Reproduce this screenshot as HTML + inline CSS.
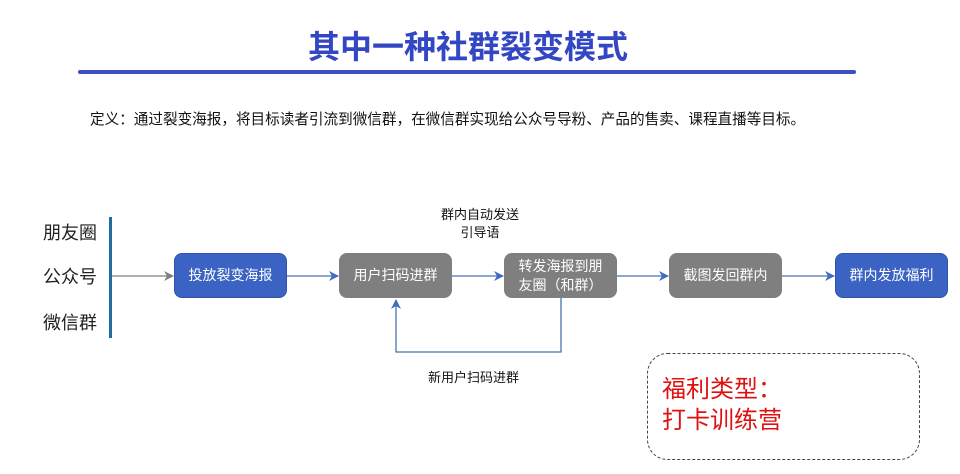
<!DOCTYPE html>
<html><head><meta charset="utf-8"><style>
body{margin:0;width:960px;height:474px;background:#fff;position:relative;overflow:hidden;font-family:"Liberation Sans","Noto Sans CJK SC",sans-serif;}
.a{position:absolute;white-space:nowrap;}
.box{position:absolute;top:253px;height:45px;width:113px;border-radius:8px;color:#fff;font-size:14px;display:flex;align-items:center;justify-content:center;text-align:center;line-height:19px;}
.blue{background:#3a63c4;border:1px solid #2f52a8;box-sizing:border-box;}
.grey{background:#7f7f7f;}
</style></head><body>
<div class="a" style="left:268px;top:27px;width:400px;text-align:center;font-size:32px;font-weight:bold;color:#3347c4;line-height:40px;">其中一种社群裂变模式</div>
<div class="a" style="left:78px;top:70px;width:778px;height:4px;background:#3a4fc0;border-radius:2px;"></div>
<div class="a" style="left:90px;top:108px;font-size:14.6px;color:#111;">定义：通过裂变海报，将目标读者引流到微信群，在微信群实现给公众号导粉、产品的售卖、课程直播等目标。</div>
<div class="a" style="left:43px;top:219px;font-size:18px;color:#222;">朋友圈</div>
<div class="a" style="left:43px;top:263px;font-size:18px;color:#222;">公众号</div>
<div class="a" style="left:43px;top:309px;font-size:18px;color:#222;">微信群</div>
<div class="a" style="left:109px;top:217px;width:3px;height:121px;background:#1f6e9e;"></div>
<svg class="a" style="left:0;top:0" width="960" height="474">
<defs><marker id="g" markerWidth="10" markerHeight="10" refX="9" refY="5" orient="auto" markerUnits="userSpaceOnUse"><path d="M0,0 L10,5 L0,10 L3,5z" fill="#7f7f7f"/></marker>
<marker id="b" markerWidth="10" markerHeight="10" refX="9" refY="5" orient="auto" markerUnits="userSpaceOnUse"><path d="M0,0 L10,5 L0,10 L3,5z" fill="#3f6cc0"/></marker></defs>
<line x1="112" y1="276" x2="173" y2="276" stroke="#7f7f7f" stroke-width="1.3" marker-end="url(#g)"/>
<line x1="287" y1="276" x2="338" y2="276" stroke="#4a72b8" stroke-width="1.3" marker-end="url(#b)"/>
<line x1="452" y1="276" x2="503" y2="276" stroke="#4a72b8" stroke-width="1.3" marker-end="url(#b)"/>
<line x1="617" y1="276" x2="668" y2="276" stroke="#4a72b8" stroke-width="1.3" marker-end="url(#b)"/>
<line x1="782" y1="276" x2="834" y2="276" stroke="#4a72b8" stroke-width="1.3" marker-end="url(#b)"/>
<polyline points="561,298 561,352 396,352 396,300" fill="none" stroke="#4a72b8" stroke-width="1.3" marker-end="url(#b)"/>
<rect x="647.5" y="353.5" width="272" height="106" rx="20" fill="none" stroke="#445" stroke-width="1" stroke-dasharray="3,2"/>
</svg>
<div class="box blue" style="left:174px;">投放裂变海报</div>
<div class="box grey" style="left:339px;">用户扫码进群</div>
<div class="box grey" style="left:504px;">转发海报到朋<br>友圈（和群）</div>
<div class="box grey" style="left:669px;">截图发回群内</div>
<div class="box blue" style="left:835px;">群内发放福利</div>
<div class="a" style="left:430px;top:206px;width:100px;text-align:center;font-size:13px;line-height:18px;color:#111;">群内自动发送<br>引导语</div>
<div class="a" style="left:428px;top:367px;font-size:13px;color:#111;">新用户扫码进群</div>
<div class="a" style="left:662px;top:374px;font-size:24px;line-height:31px;color:#e01010;">福利类型：<br>打卡训练营</div>
</body></html>
